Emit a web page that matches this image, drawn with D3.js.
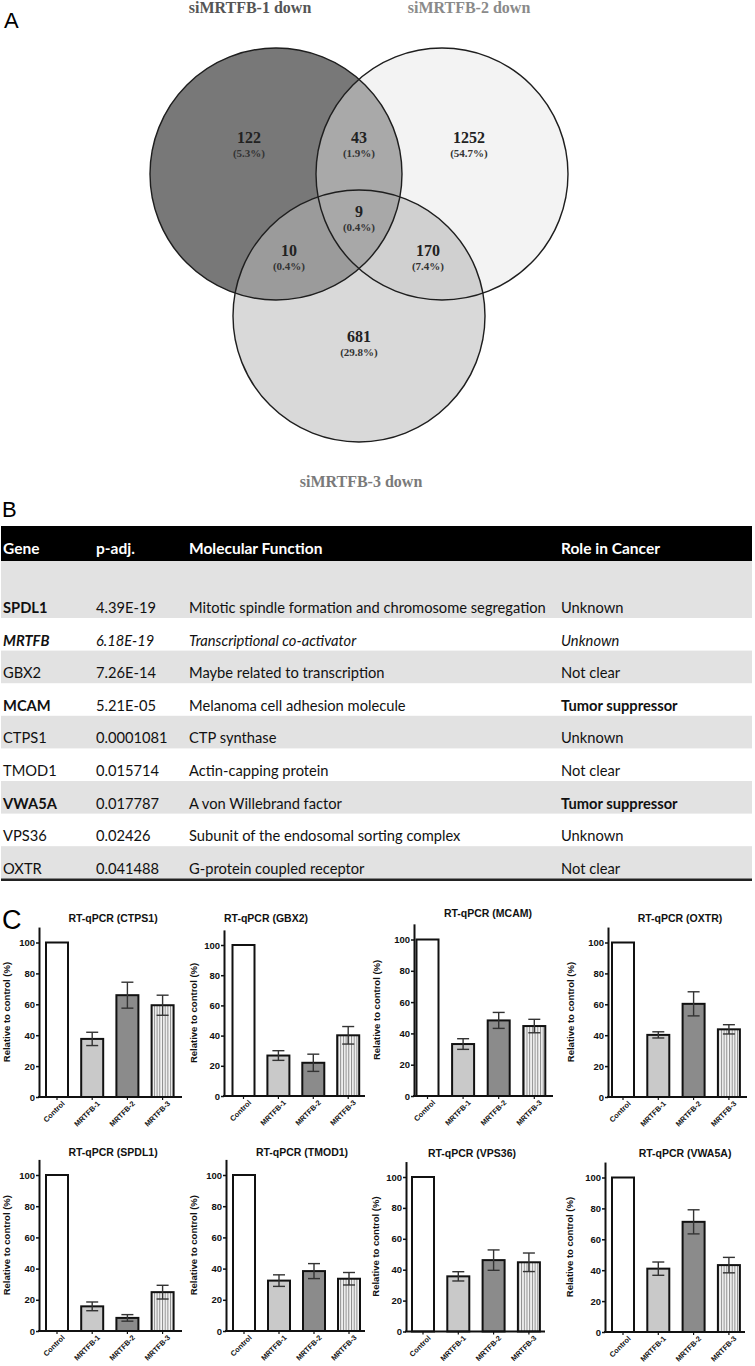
<!DOCTYPE html>
<html>
<head>
<meta charset="utf-8">
<script src="https://cdn.jsdelivr.net/npm/d3@7"></script>
<style>
  body { margin: 0; background: #fff; }
  svg { display: block; }
</style>
</head>
<body>
<div id="fig"></div>
<script>
// ---- data ----
const vennSets = ["siMRTFB-1 down", "siMRTFB-2 down", "siMRTFB-3 down"];
const vennCounts = [122, 43, 1252, 9, 10, 170, 681];
const vennPct = ["(5.3%)", "(1.9%)", "(54.7%)", "(0.4%)", "(0.4%)", "(7.4%)", "(29.8%)"];

const tableHeader = ["Gene", "p-adj.", "Molecular Function", "Role in Cancer"];
const tableGenes = ["SPDL1", "MRTFB", "GBX2", "MCAM", "CTPS1", "TMOD1", "VWA5A", "VPS36", "OXTR"];
const tablePadj = ["4.39E-19", "6.18E-19", "7.26E-14", "5.21E-05", "0.0001081", "0.015714", "0.017787", "0.02426", "0.041488"];
const tableFunction = [
  "Mitotic spindle formation and chromosome segregation",
  "Transcriptional co-activator",
  "Maybe related to transcription",
  "Melanoma cell adhesion molecule",
  "CTP synthase",
  "Actin-capping protein",
  "A von Willebrand factor",
  "Subunit of the endosomal sorting complex",
  "G-protein coupled receptor"
];
const tableRole = ["Unknown", "Unknown", "Not clear", "Tumor suppressor", "Unknown", "Not clear", "Tumor suppressor", "Unknown", "Not clear"];
const boldGenes = ["SPDL1", "MRTFB", "MCAM", "VWA5A"];
const italicGenes = ["MRTFB"];

const conditions = ["Control", "MRTFB-1", "MRTFB-2", "MRTFB-3"];
const qpcrGenes = ["CTPS1", "GBX2", "MCAM", "OXTR", "SPDL1", "TMOD1", "VPS36", "VWA5A"];
const qpcrMeans = [
  [100, 37.6, 65.9, 59.4],
  [100, 26.8, 22.0, 40.2],
  [100, 33.2, 48.3, 44.7],
  [100, 40.2, 60.3, 43.8],
  [100, 15.8, 8.4, 24.9],
  [100, 32.3, 38.4, 33.5],
  [100, 35.7, 46.2, 44.8],
  [100, 41.0, 71.3, 43.3]
];
const qpcrErr = [
  [0, 4.3, 8.4, 6.5],
  [0, 3.2, 5.7, 5.8],
  [0, 3.4, 5.1, 4.3],
  [0, 2.0, 7.8, 3.0],
  [0, 2.8, 2.1, 4.4],
  [0, 3.7, 4.8, 4.0],
  [0, 3.0, 6.6, 6.0],
  [0, 4.3, 7.8, 5.0]
];
const yTicks = [0, 20, 40, 60, 80, 100];

// ---- layout ----
const W = 755, H = 1366;
const svg = d3.select("#fig").append("svg").attr("width", W).attr("height", H);

const serif = "'Liberation Serif', 'Times New Roman', serif";
const sans = "'Liberation Sans', Arial, sans-serif";
const tableFont = "Lato, 'Open Sans', sans-serif";

function panelLetter(txt, x, y, size) {
  svg.append("text").attr("x", x).attr("y", y)
    .style("font-family", sans).style("font-size", size + "px")
    .text(txt);
}

// ---------- A: Venn ----------
panelLetter("A", 4, 28, 22);

const r = 126;
const centers = [[276, 174], [442, 174], [359, 316]];
const defs = svg.append("defs");
centers.forEach((c, i) => {
  defs.append("clipPath").attr("id", "clipC" + i)
    .append("circle").attr("cx", c[0]).attr("cy", c[1]).attr("r", r);
});

const venn = svg.append("g");
const soloFill = ["#787878", "#f3f3f3", "#d9d9d9"];
centers.forEach((c, i) => {
  venn.append("circle").attr("cx", c[0]).attr("cy", c[1]).attr("r", r).attr("fill", soloFill[i]);
});
// pairwise overlaps
function overlap(clipIdx, circIdx, fill) {
  const c = centers[circIdx];
  return venn.append("g").attr("clip-path", `url(#clipC${clipIdx})`)
    .append("circle").attr("cx", c[0]).attr("cy", c[1]).attr("r", r).attr("fill", fill);
}
overlap(0, 1, "#a9a9a9");
overlap(0, 2, "#9b9b9b");
overlap(1, 2, "#d0d0d0");
// triple
venn.append("g").attr("clip-path", "url(#clipC0)")
  .append("g").attr("clip-path", "url(#clipC1)")
  .append("circle").attr("cx", centers[2][0]).attr("cy", centers[2][1]).attr("r", r).attr("fill", "#a8a8a8");
centers.forEach(c => {
  venn.append("circle").attr("cx", c[0]).attr("cy", c[1]).attr("r", r)
    .attr("fill", "none").attr("stroke", "#1e1e1e").attr("stroke-width", 1.4);
});

const regionPos = [[249, 143], [359, 143], [469, 143], [359, 217], [289, 256], [428, 256], [359, 342]];
vennCounts.forEach((v, i) => {
  const p = regionPos[i];
  venn.append("text").attr("x", p[0]).attr("y", p[1]).attr("text-anchor", "middle")
    .style("font-family", serif).style("font-weight", "bold").style("font-size", "16px")
    .attr("fill", "#222").text(v);
  venn.append("text").attr("x", p[0]).attr("y", p[1] + 14).attr("text-anchor", "middle")
    .style("font-family", serif).style("font-weight", "bold").style("font-size", "11px")
    .attr("fill", "#333").text(vennPct[i]);
});

const setTitlePos = [[250, 13], [469, 13], [361, 487]];
const setTitleCol = ["#555", "#8a8a8a", "#7a7a7a"];
vennSets.forEach((s, i) => {
  svg.append("text").attr("x", setTitlePos[i][0]).attr("y", setTitlePos[i][1])
    .attr("text-anchor", "middle")
    .style("font-family", serif).style("font-weight", "bold").style("font-size", "16px")
    .attr("fill", setTitleCol[i]).text(s);
});

// ---------- B: table ----------
panelLetter("B", 2, 517, 22);

const colX = [3, 96, 189, 561];
const headTop = 526, headBot = 561;
const firstRowH = 57, rowH = 32.6;
svg.append("rect").attr("x", 1).attr("y", headTop).attr("width", 751).attr("height", headBot - headTop).attr("fill", "#000");
tableHeader.forEach((h, i) => {
  svg.append("text").attr("x", colX[i]).attr("y", headBot - 7)
    .style("font-family", tableFont).style("font-size", "15.5px").style("font-weight", "bold")
    .attr("fill", "#fff").text(h);
});

const rowBottoms = tableGenes.map((g, i) => headBot + firstRowH + i * rowH);
const rows = svg.append("g");
tableGenes.forEach((g, i) => {
  const top = i === 0 ? headBot : rowBottoms[i - 1];
  if (i % 2 === 0) {
    rows.append("rect").attr("x", 1).attr("y", top).attr("width", 751)
      .attr("height", rowBottoms[i] - top).attr("fill", "#e2e2e2");
  }
  const italic = italicGenes.includes(g);
  const base = rowBottoms[i] - 5;
  const cells = [g, tablePadj[i], tableFunction[i], tableRole[i]];
  cells.forEach((c, j) => {
    let bold = false;
    if (j === 0 && boldGenes.includes(g)) bold = true;
    if (j === 3 && c === "Tumor suppressor") bold = true;
    rows.append("text").attr("x", colX[j]).attr("y", base)
      .style("font-family", tableFont).style("font-size", "14.7px")
      .style("font-weight", bold ? "bold" : "normal")
      .style("font-style", italic ? "italic" : "normal")
      .attr("fill", "#111").text(c);
  });
});
svg.append("line").attr("x1", 1).attr("x2", 752)
  .attr("y1", rowBottoms[8] + 1).attr("y2", rowBottoms[8] + 1)
  .attr("stroke", "#222").attr("stroke-width", 2.5);

// ---------- C: qPCR bar charts ----------
panelLetter("C", 2, 929, 27);

const stripe = defs.append("pattern").attr("id", "stripes")
  .attr("patternUnits", "userSpaceOnUse").attr("width", 2.7).attr("height", 10);
stripe.append("rect").attr("width", 2.7).attr("height", 10).attr("fill", "#f4f4f4");
stripe.append("rect").attr("x", 0).attr("width", 1).attr("height", 10).attr("fill", "#8c8c8c");
const barFills = ["#ffffff", "#c9c9c9", "#8b8b8b", "url(#stripes)"];

// frame of each panel: y-axis x, y of 0, y of 100, first bar left, bar step, x-axis end, title x/y, y-label x
const frames = [
  { ax: 39, y0: 1097, y100: 942.5, b0: 46, step: 35.2, xEnd: 182, tx: 113, ty: 922, lx: 10 },
  { ax: 224, y0: 1096, y100: 945, b0: 232.5, step: 34.9, xEnd: 365, tx: 266, ty: 922, lx: 197 },
  { ax: 414, y0: 1096, y100: 939.5, b0: 416.5, step: 35.6, xEnd: 553, tx: 488, ty: 917, lx: 380 },
  { ax: 608, y0: 1097, y100: 942.5, b0: 612, step: 35.3, xEnd: 747, tx: 680, ty: 922, lx: 574 },
  { ax: 39, y0: 1331, y100: 1175, b0: 46, step: 35.2, xEnd: 182, tx: 113, ty: 1156, lx: 10 },
  { ax: 226, y0: 1331, y100: 1175, b0: 233, step: 35, xEnd: 365, tx: 302, ty: 1156, lx: 197 },
  { ax: 406, y0: 1331.5, y100: 1177, b0: 412, step: 35.3, xEnd: 545, tx: 472, ty: 1157, lx: 379 },
  { ax: 605, y0: 1332, y100: 1177.5, b0: 612, step: 35.3, xEnd: 745, tx: 685, ty: 1157, lx: 573 }
];

qpcrGenes.forEach((gene, k) => {
  const f = frames[k];
  const barW = 22;
  const g = svg.append("g");

  const y = d3.scaleLinear().domain([0, 110])
    .range([f.y0, f.y0 - 110 * (f.y0 - f.y100) / 100]);
  const x = d3.scaleBand().domain(conditions)
    .range([f.b0, f.b0 + 3 * f.step + barW])
    .paddingInner(1 - barW / f.step).paddingOuter(0);

  // title
  g.append("text").attr("x", f.tx).attr("y", f.ty).attr("text-anchor", "middle")
    .style("font-family", sans).style("font-weight", "bold").style("font-size", "10.5px")
    .attr("fill", "#111")
    .text(`RT-qPCR (${gene})`);

  // y label
  const ymid = (f.y0 + y(110)) / 2;
  g.append("text")
    .attr("transform", `translate(${f.lx},${ymid}) rotate(-90)`)
    .attr("text-anchor", "middle")
    .style("font-family", sans).style("font-weight", "bold").style("font-size", "9.5px")
    .attr("fill", "#111")
    .text("Relative to control (%)");

  // bars
  const means = qpcrMeans[k], errs = qpcrErr[k];
  conditions.forEach((c, i) => {
    g.append("rect")
      .attr("x", x(c)).attr("y", y(means[i]))
      .attr("width", x.bandwidth()).attr("height", y(0) - y(means[i]))
      .attr("fill", barFills[i]).attr("stroke", "#111").attr("stroke-width", 2);
    if (errs[i] > 0) {
      const cx = x(c) + x.bandwidth() / 2;
      const eg = g.append("g").attr("stroke", "#333").attr("stroke-width", 1.4);
      eg.append("line").attr("x1", cx).attr("x2", cx)
        .attr("y1", y(means[i] - errs[i])).attr("y2", y(means[i] + errs[i]));
      [means[i] - errs[i], means[i] + errs[i]].forEach(v => {
        eg.append("line").attr("x1", cx - 6).attr("x2", cx + 6)
          .attr("y1", y(v)).attr("y2", y(v));
      });
    }
  });

  // y axis
  const yAxis = g.append("g").attr("transform", `translate(${f.ax},0)`)
    .call(d3.axisLeft(y).tickValues(yTicks).tickSize(3).tickSizeOuter(0).tickPadding(1));
  yAxis.select(".domain").attr("stroke", "#111").attr("stroke-width", 2);
  yAxis.selectAll(".tick line").attr("stroke", "#111").attr("stroke-width", 1.5);
  yAxis.selectAll(".tick text")
    .style("font-family", sans).style("font-weight", "bold").style("font-size", "9.5px").attr("fill", "#111");

  // x axis
  const xAxis = g.append("g").attr("transform", `translate(0,${f.y0})`)
    .call(d3.axisBottom(x).tickSize(3).tickSizeOuter(0).tickPadding(2));
  xAxis.select(".domain").remove();
  xAxis.selectAll(".tick line").attr("stroke", "#111").attr("stroke-width", 1.2);
  xAxis.selectAll(".tick text")
    .style("font-family", sans).style("font-weight", "bold").style("font-size", "7.4px")
    .attr("fill", "#111")
    .attr("text-anchor", "end")
    .attr("dy", "0.3em")
    .attr("transform", "translate(3,2) rotate(-45)");
  g.append("line").attr("x1", f.ax - 1).attr("x2", f.xEnd)
    .attr("y1", f.y0).attr("y2", f.y0)
    .attr("stroke", "#111").attr("stroke-width", 2);
});
</script>
</body>
</html>
